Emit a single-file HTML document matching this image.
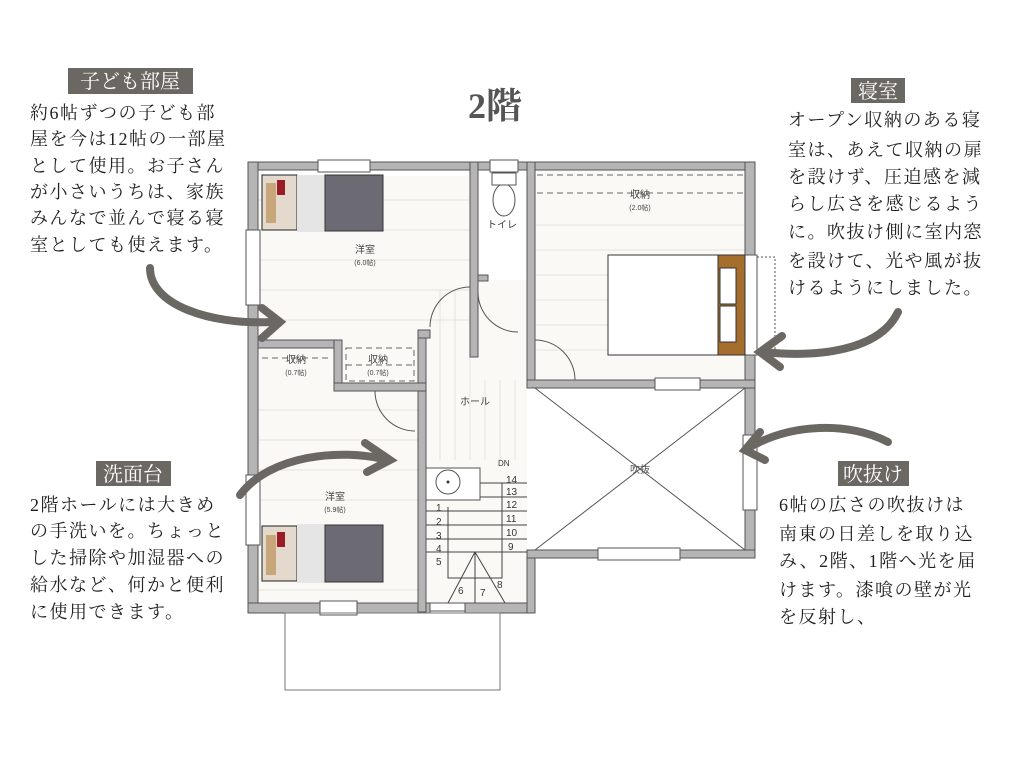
<!DOCTYPE html>
<html><head><meta charset="utf-8"><style>
html,body{margin:0;padding:0;background:#fff;}
svg{display:block;}
.t{font-family:"Liberation Serif","Noto Serif CJK JP","Noto Serif CJK SC",serif;font-size:18px;fill:#222;letter-spacing:1.5px;}
.lb{font-family:"Liberation Serif","Noto Serif CJK JP","Noto Serif CJK SC",serif;font-size:20px;fill:#fff;}
.s{font-family:"Liberation Sans","Noto Sans CJK JP",sans-serif;font-size:10px;fill:#444;}
.xs{font-family:"Liberation Sans","Noto Sans CJK JP",sans-serif;font-size:7px;fill:#444;}
.w{fill:#b5b5b5;stroke:#555;stroke-width:1;}
</style></head><body>
<svg width="1024" height="768" viewBox="0 0 1024 768" xmlns="http://www.w3.org/2000/svg">
<rect width="1024" height="768" fill="#fff"/>
<!-- floors -->
<rect x="258" y="170" width="269" height="435" fill="#fbf9f5"/>
<rect x="535" y="170" width="210" height="210" fill="#fbf9f5"/>
<g stroke="#e6e3dd" stroke-width="1">
<line x1="258" y1="200" x2="470" y2="200"/><line x1="258" y1="230" x2="470" y2="230"/><line x1="258" y1="260" x2="470" y2="260"/><line x1="258" y1="290" x2="470" y2="290"/><line x1="258" y1="320" x2="470" y2="320"/>
<line x1="258" y1="410" x2="418" y2="410"/><line x1="258" y1="440" x2="418" y2="440"/><line x1="258" y1="470" x2="418" y2="470"/><line x1="258" y1="500" x2="418" y2="500"/><line x1="258" y1="590" x2="418" y2="590"/>
<line x1="535" y1="225" x2="745" y2="225"/><line x1="535" y1="250" x2="745" y2="250"/><line x1="535" y1="275" x2="745" y2="275"/><line x1="535" y1="300" x2="745" y2="300"/><line x1="535" y1="325" x2="745" y2="325"/><line x1="535" y1="350" x2="745" y2="350"/>
<line x1="440" y1="290" x2="440" y2="460"/><line x1="455" y1="290" x2="455" y2="460"/><line x1="470" y1="290" x2="470" y2="460"/><line x1="485" y1="380" x2="485" y2="460"/><line x1="500" y1="380" x2="500" y2="460"/><line x1="515" y1="380" x2="515" y2="460"/>
</g>
<rect x="535" y="388" width="210" height="162" fill="#fff"/>
<rect x="478" y="170" width="49" height="110" fill="#fff"/>
<rect x="262" y="170" width="206" height="6" fill="#fff"/>
<!-- walls -->
<rect class="w" x="248" y="162" width="507" height="8"/>
<rect class="w" x="248" y="162" width="10" height="451"/>
<rect class="w" x="745" y="162" width="10" height="396"/>
<rect class="w" x="248" y="603" width="182" height="10"/>
<rect class="w" x="465" y="603" width="70" height="10"/>
<rect class="w" x="527" y="550" width="8" height="63"/>
<rect class="w" x="527" y="550" width="228" height="8"/>
<rect class="w" x="470" y="162" width="8" height="195"/>
<rect class="w" x="527" y="162" width="8" height="223"/>
<rect class="w" x="527" y="380" width="228" height="8"/>
<rect class="w" x="418" y="330" width="8" height="282"/>
<rect class="w" x="258" y="340" width="80" height="8"/>
<rect class="w" x="334" y="340" width="8" height="45"/>
<rect class="w" x="334" y="383" width="92" height="8"/>
<rect class="w" x="418" y="330" width="12" height="8"/>
<rect class="w" x="478" y="275" width="10" height="6"/>
<!-- windows -->
<g fill="#fff" stroke="#555" stroke-width="1">
<rect x="318" y="160" width="52" height="12"/><rect x="246" y="230" width="14" height="75"/><rect x="246" y="475" width="14" height="70"/>
<rect x="320" y="601" width="37" height="14"/><rect x="430" y="603" width="35" height="8"/>
<rect x="598" y="548" width="82" height="12"/><rect x="743" y="435" width="14" height="75"/><rect x="743" y="255" width="14" height="100"/>
<rect x="655" y="378" width="45" height="12"/><rect x="490" y="160" width="28" height="12"/>
</g>
<rect x="757" y="257" width="18" height="96" fill="none" stroke="#555" stroke-dasharray="2,2"/>
<!-- storage dashed -->
<g stroke="#666" stroke-dasharray="6,4" fill="none">
<line x1="537" y1="175" x2="743" y2="175"/><line x1="537" y1="193" x2="743" y2="193"/>
<line x1="262" y1="358" x2="330" y2="358"/><line x1="346" y1="365" x2="414" y2="365"/>
<rect x="346" y="348" width="68" height="33"/>
</g>
<text class="s" x="640" y="198" text-anchor="middle">収納</text><text class="xs" x="640" y="210" text-anchor="middle">(2.0帖)</text>
<text class="s" x="296" y="363" text-anchor="middle">収納</text><text class="xs" x="296" y="375" text-anchor="middle">(0.7帖)</text>
<text class="s" x="378" y="363" text-anchor="middle">収納</text><text class="xs" x="378" y="375" text-anchor="middle">(0.7帖)</text>
<text class="s" x="365" y="253" text-anchor="middle">洋室</text><text class="xs" x="365" y="265" text-anchor="middle">(6.0帖)</text>
<text class="s" x="335" y="500" text-anchor="middle">洋室</text><text class="xs" x="335" y="512" text-anchor="middle">(5.9帖)</text>
<text class="s" x="638" y="308" text-anchor="middle">洋室</text><text class="xs" x="638" y="320" text-anchor="middle">(6.0帖)</text>
<text class="s" x="475" y="405" text-anchor="middle">ホール</text>
<text class="s" x="502" y="228" text-anchor="middle">トイレ</text>
<!-- toilet -->
<ellipse cx="504" cy="200" rx="11" ry="16" fill="#fff" stroke="#555"/><rect x="492" y="173" width="24" height="12" fill="#fff" stroke="#555"/>
<!-- fukinuke -->
<line x1="535" y1="388" x2="745" y2="550" stroke="#555"/><line x1="745" y1="388" x2="535" y2="550" stroke="#555"/>
<text class="s" x="640" y="473" text-anchor="middle" style="fill:#555">吹抜</text>
<!-- doors -->
<g fill="none" stroke="#555">
<path d="M470 287 A40 40 0 0 0 430 327"/><path d="M478 292 A40 40 0 0 0 518 332"/><path d="M535 340 A40 40 0 0 1 575 380"/><path d="M375 391 A40 40 0 0 0 415 431"/>
</g>
<!-- stairs -->
<rect x="426" y="468" width="54" height="32" fill="#fff" stroke="#555"/><circle cx="448" cy="482" r="12" fill="#fff" stroke="#555"/><circle cx="448" cy="482" r="1.5" fill="#333"/>
<g stroke="#444" stroke-width="1">
<line x1="480" y1="483" x2="527" y2="483"/><line x1="480" y1="497" x2="527" y2="497"/>
<line x1="426" y1="511" x2="527" y2="511"/><line x1="426" y1="525" x2="527" y2="525"/><line x1="426" y1="539" x2="527" y2="539"/><line x1="426" y1="552" x2="527" y2="552"/>
<line x1="475" y1="552" x2="448" y2="603"/><line x1="475" y1="552" x2="475" y2="603"/><line x1="475" y1="552" x2="505" y2="603"/>
<polyline points="448,507 448,578 502,578 502,483" fill="none"/>
</g>
<g font-family="Liberation Sans,sans-serif" font-size="10" fill="#333">
<text x="436" y="511">1</text><text x="436" y="525">2</text><text x="436" y="539">3</text><text x="436" y="552">4</text><text x="436" y="565">5</text><text x="458" y="594">6</text><text x="480" y="596">7</text><text x="497" y="588">8</text>
<text x="508" y="550">9</text><text x="506" y="536">10</text><text x="506" y="522">11</text><text x="506" y="508">12</text><text x="506" y="495">13</text><text x="506" y="483">14</text><text x="498" y="466" font-size="8">DN</text>
</g>
<!-- balcony -->
<rect x="285" y="613" width="215" height="77" fill="none" stroke="#777"/>
<!-- beds -->
<g>
<rect x="262" y="175" width="35" height="55" fill="#e3d9cc" stroke="#222"/><rect x="266" y="183" width="10" height="40" fill="#c9a57c"/><rect x="277" y="180" width="8" height="15" fill="#9b1c24"/>
<rect x="297" y="175" width="28" height="57" fill="#e5e5e5"/><rect x="325" y="175" width="58" height="56" fill="#6c6b73" stroke="#333"/>
<rect x="262" y="526" width="35" height="55" fill="#e3d9cc" stroke="#222"/><rect x="266" y="535" width="10" height="40" fill="#c9a57c"/><rect x="277" y="532" width="8" height="15" fill="#9b1c24"/>
<rect x="297" y="524" width="28" height="59" fill="#e5e5e5"/><rect x="325" y="525" width="58" height="57" fill="#6c6b73" stroke="#333"/>
<rect x="608" y="255" width="110" height="100" fill="#fff" stroke="#333"/><rect x="718" y="255" width="27" height="100" fill="#a66e2c" stroke="#333"/>
<rect x="720" y="268" width="16" height="36" fill="#fff" stroke="#333"/><rect x="720" y="306" width="16" height="36" fill="#fff" stroke="#333"/>
</g>
<!-- arrows -->
<g fill="none" stroke="#6b6863" stroke-width="8" stroke-linecap="round">
<path d="M150 268 C150 305 210 325 272 322"/><path d="M262 308 L280 322 L262 338"/>
<path d="M240 495 C270 455 340 448 388 460"/><path d="M365 443 L390 460 L367 472"/>
<path d="M898 312 C880 350 820 358 762 352"/><path d="M782 336 L760 352 L780 367"/>
<path d="M888 442 C850 422 790 422 745 450"/><path d="M760 432 L745 450 L765 460"/>
</g>
<!-- title -->
<text x="495" y="118" text-anchor="middle" font-family="Liberation Serif,Noto Serif CJK JP,serif" font-size="36" font-weight="bold" fill="#555">2階</text>
<!-- labels -->
<rect x="68" y="68" width="125" height="26" fill="#6b6863"/><text class="lb" x="130" y="88" text-anchor="middle">子ども部屋</text>
<rect x="851" y="78" width="54" height="25" fill="#6b6863"/><text class="lb" x="878" y="98" text-anchor="middle">寝室</text>
<rect x="96" y="461" width="75" height="25" fill="#6b6863"/><text class="lb" x="133" y="481" text-anchor="middle">洗面台</text>
<rect x="838" y="461" width="71" height="25" fill="#6b6863"/><text class="lb" x="873" y="481" text-anchor="middle">吹抜け</text>
<!-- body text -->
<g class="t">
<text x="30" y="119">約6帖ずつの子ども部</text><text x="30" y="145">屋を今は12帖の一部屋</text><text x="30" y="172">として使用。お子さん</text><text x="30" y="198">が小さいうちは、家族</text><text x="30" y="224">みんなで並んで寝る寝</text><text x="30" y="251">室としても使えます。</text>
<text x="788" y="126">オープン収納のある寝</text><text x="788" y="156">室は、あえて収納の扉</text><text x="788" y="183">を設けず、圧迫感を減</text><text x="788" y="210">らし広さを感じるよう</text><text x="788" y="238">に。吹抜け側に室内窓</text><text x="788" y="267">を設けて、光や風が抜</text><text x="788" y="294">けるようにしました。</text>
<text x="30" y="511">2階ホールには大きめ</text><text x="30" y="537">の手洗いを。ちょっと</text><text x="30" y="564">した掃除や加湿器への</text><text x="30" y="591">給水など、何かと便利</text><text x="30" y="618">に使用できます。</text>
<text x="779" y="511">6帖の広さの吹抜けは</text><text x="779" y="540">南東の日差しを取り込</text><text x="779" y="567">み、2階、1階へ光を届</text><text x="779" y="596">けます。漆喰の壁が光</text><text x="779" y="623">を反射し、</text>
</g>
</svg>
</body></html>
